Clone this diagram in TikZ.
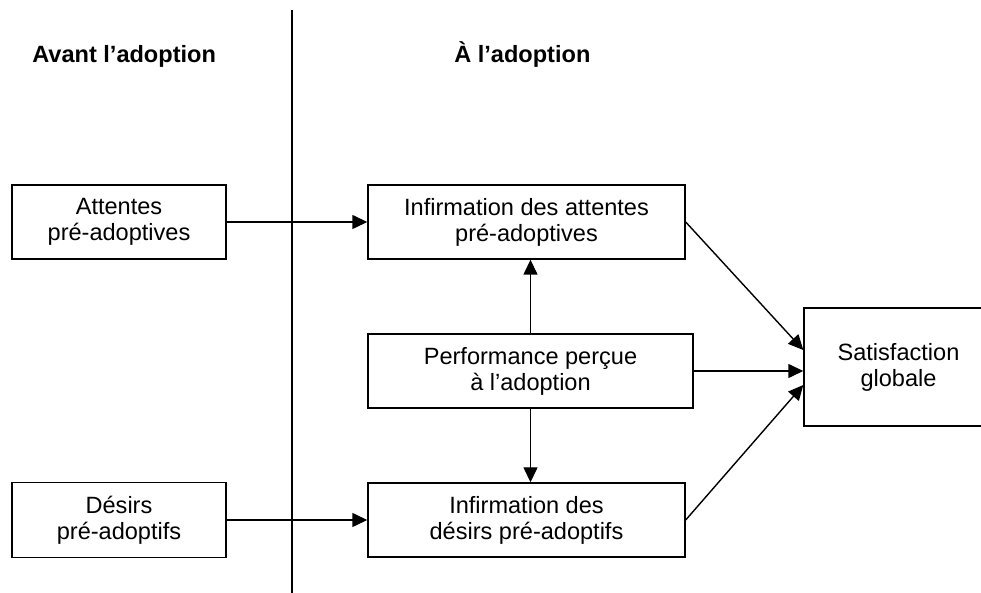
\documentclass[tikz,border=0pt]{standalone}
\usepackage{fontspec}
\setmainfont{Liberation Sans}
\usetikzlibrary{arrows.meta, positioning}

\begin{document}
\begin{tikzpicture}[
    % Stili per i blocchi
    box/.style={rectangle, draw, line width=0.8pt, align=center, minimum height=1.48cm, font=\fontsize{13.4}{14.8}\selectfont},
    smallbox/.style={box, minimum width=4.28cm},
    midbox/.style={box, minimum width=6.34cm},
    % Stili per le connessioni
    flow/.style={-{Triangle[length=0.3cm, width=0.28cm]}, line width=0.8pt},
    divider/.style={line width=1.1pt},
    % Stili per il testo
    headtext/.style={font=\fontsize{13.4}{14.8}\selectfont\bfseries, anchor=base west, inner sep=0pt}
]
\useasboundingbox (0,0) rectangle (19.62,11.86);

% === TITOLI ===
\node[headtext] (avant) at (0.64,10.6) {Avant l’adoption};
\node[headtext] (pendant) at (9.08,10.6) {À l’adoption};

% === SEPARATORE ===
\coordinate (septop) at (5.84,11.66);
\coordinate (sepbottom) at (5.84,0);
\draw[divider] (septop) -- (sepbottom);

% === BLOCCHI ===
\node[smallbox] (attentes) at (2.38,7.42) {Attentes\\pré-adoptives};
\node[midbox] (infatt) at (10.53,7.42) {Infirmation des attentes\\pré-adoptives};
\node[box, minimum width=6.5cm] (perf) at (10.61,4.44) {Performance perçue\\à l’adoption};
\node[box, minimum width=3.78cm, minimum height=2.36cm] (satis) at (17.97,4.52) {Satisfaction\\globale};
\node[smallbox, minimum height=1.5cm] (desirs) at (2.38,1.46) {Désirs\\pré-adoptifs};
\node[midbox] (infdes) at (10.53,1.46) {Infirmation des\\désirs pré-adoptifs};

% === CONNESSIONI ===
\draw[flow] (attentes) -- (infatt);
\draw[flow] (desirs) -- (infdes);
\draw[flow] (perf.north) -- (perf.north |- infatt.south);
\draw[flow] (perf.south) -- (perf.south |- infdes.north);
\draw[flow] (perf.east) -- (perf.east -| satis.west);
\draw[flow] (infatt.east) -- ([yshift=0.34cm]satis.west);
\draw[flow] (infdes.east) -- ([yshift=-0.36cm]satis.west);

\end{tikzpicture}
\end{document}
